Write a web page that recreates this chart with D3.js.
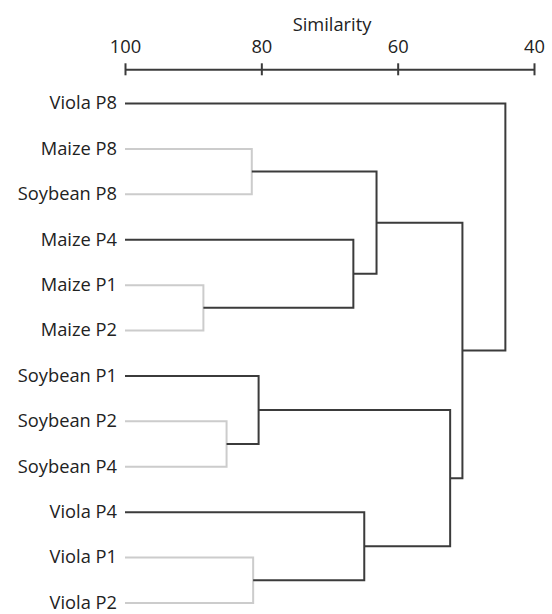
<!DOCTYPE html>
<html>
<head>
<meta charset="utf-8">
<script src="https://cdn.jsdelivr.net/npm/d3@7"></script>
<style>
  html, body { margin: 0; padding: 0; background: #fff; }
  svg { display: block; font-family: "Open Sans", sans-serif; }
</style>
</head>
<body>
<svg id="chart" width="552" height="614"></svg>
<script>
// ---- data ----
const leaves = ["Viola P8", "Maize P8", "Soybean P8", "Maize P4", "Maize P1", "Maize P2",
                "Soybean P1", "Soybean P2", "Soybean P4", "Viola P4", "Viola P1", "Viola P2"];
const mergeIds   = ["A", "B", "C", "D", "E", "F", "G", "H", "I", "J", "K"];
const mergeLeft  = ["Maize P8", "Maize P1", "Soybean P2", "Viola P1", "Maize P4", "A", "Soybean P1", "Viola P4", "G", "F", "Viola P8"];
const mergeRight = ["Soybean P8", "Maize P2", "Soybean P4", "Viola P2", "B", "E", "C", "D", "H", "I", "J"];
const similarity = [81.4, 88.5, 85.1, 81.2, 66.5, 63.1, 80.4, 64.9, 52.3, 50.5, 44.2];
const lightAbove = 81; // clusters more similar than this are drawn in light grey
const tickValues = [100, 80, 60, 40];
const axisTitle = "Similarity";

// ---- layout ----
const svg = d3.select("#chart");
const x = d3.scaleLinear().domain([100, 40]).range([125, 534]);
const y = d3.scalePoint().domain(leaves).range([103.5, 603]);
const axisY = 69.3;
const dark = "#3b3b3b", light = "#cccccc";

// node positions
const pos = {};
leaves.forEach(l => pos[l] = { x: x(100), y: y(l) });
mergeIds.forEach((id, i) => {
  const a = pos[mergeLeft[i]], b = pos[mergeRight[i]];
  pos[id] = { x: x(similarity[i]), y: (a.y + b.y) / 2 };
});

// links
const g = svg.append("g");
mergeIds.forEach((id, i) => {
  const a = pos[mergeLeft[i]], b = pos[mergeRight[i]], n = pos[id];
  const p = d3.path();
  p.moveTo(a.x, a.y);
  p.lineTo(n.x, a.y);
  p.lineTo(n.x, b.y);
  p.lineTo(b.x, b.y);
  g.append("path")
    .attr("d", p.toString())
    .attr("fill", "none")
    .attr("stroke", similarity[i] >= lightAbove ? light : dark)
    .attr("stroke-width", 2);
});

// leaf labels
svg.append("g").selectAll("text").data(leaves).join("text")
  .attr("x", x(100) - 8)
  .attr("y", d => y(d))
  .attr("dy", "0.32em")
  .attr("text-anchor", "end")
  .attr("font-size", 18.3)
  .attr("fill", "#222")
  .text(d => d);

// axis
const ax = svg.append("g")
  .attr("transform", `translate(0,${axisY})`)
  .call(d3.axisTop(x).tickValues(tickValues).tickSizeInner(6).tickSizeOuter(0).tickFormat(d3.format("d")));
ax.select(".domain").attr("stroke", dark).attr("stroke-width", 2);
ax.selectAll(".tick line").attr("stroke", dark).attr("stroke-width", 2).attr("y1", 6).attr("y2", -6);
ax.selectAll(".tick text")
  .attr("y", -16).attr("dy", "0")
  .attr("font-size", 18.3)
  .attr("font-family", "'Open Sans', sans-serif")
  .attr("fill", "#222");

svg.append("text")
  .attr("x", 332).attr("y", 30.7)
  .attr("text-anchor", "middle")
  .attr("font-size", 18.3)
  .attr("fill", "#222")
  .text(axisTitle);
</script>
</body>
</html>
